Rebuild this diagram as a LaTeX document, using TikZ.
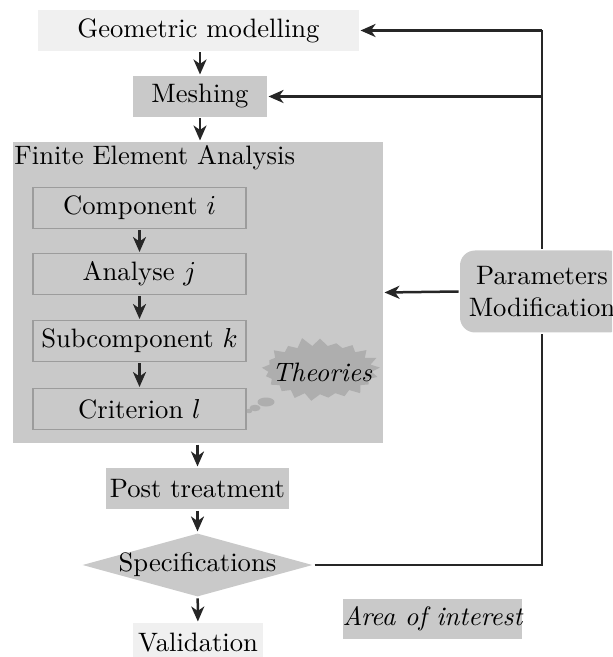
\documentclass[tikz,border=0pt]{standalone}
\usetikzlibrary{shapes.geometric,shapes.symbols,arrows.meta}
\newcommand\pxu{0.4pt}
\definecolor{lightg}{HTML}{F0F0F0}
\definecolor{midg}{HTML}{C9C9C9}
\definecolor{edgeg}{HTML}{9C9C9C}
\definecolor{starg}{HTML}{AEAEAE}
\definecolor{lineg}{HTML}{262626}
\tikzset{
  box/.style={rectangle, inner sep=0pt, outer sep=0.6pt},
  lightbox/.style={box, fill=lightg},
  midbox/.style={box, fill=midg},
  inbox/.style={box, draw=edgeg, fill=midg, line width=0.55pt, minimum width=213*\pxu, minimum height=41*\pxu},
  conn/.style={draw=lineg, line width=1pt},
  arr/.style={conn, -{Stealth[length=6pt,width=5.2pt,inset=1.8pt]}},
}
\begin{document}
\begin{tikzpicture}[x=0.4pt,y=-0.4pt,font=\fontsize{10.65pt}{12.8pt}\selectfont]
\useasboundingbox (0,0) rectangle (612,657);
\clip (0,0) rectangle (612,657);
% top boxes
\node[lightbox, minimum width=321*\pxu, minimum height=41*\pxu] (geo) at (198.5,30.5) {Geometric modelling};
\node[midbox, minimum width=134*\pxu, minimum height=41*\pxu] (mesh) at (200,96.5) {Meshing};
% FEA block
\node[midbox, minimum width=370*\pxu, minimum height=301*\pxu] (fea) at (198,292.5) {};
\node[anchor=base west, inner sep=0pt] (fealabel) at (14,165) {Finite Element Analysis};
\node[starburst, starburst points=21, starburst point height=3.8pt, random starburst=11,
      fill=starg, inner sep=0pt, minimum width=49pt, minimum height=27pt] (theo) at (320,370) {};
\node[inner sep=0pt] (theotext) at (322,372) {\itshape Theories};
\fill[starg] (266,402) ellipse [x radius=3.4pt, y radius=1.8pt];
\fill[starg] (255,408) ellipse [x radius=2.2pt, y radius=1.3pt];
\fill[starg] (249,411) ellipse [x radius=1.3pt, y radius=0.9pt];
\node[inbox] (comp) at (139.5,208) {Component $i$};
\node[inbox] (ana) at (139.5,274) {Analyse $j$};
\node[inbox] (sub) at (139.5,341) {Subcomponent $k$};
\node[inbox] (crit) at (139.5,409) {Criterion $l$};
% lower part
\node[midbox, minimum width=183*\pxu, minimum height=41*\pxu] (post) at (197.5,488.5) {Post treatment};
\node[diamond, aspect=3.6, fill=midg, inner sep=-0.9pt, outer sep=0.6pt, minimum width=92.4pt, minimum height=25.6pt] (spec) at (197.5,565) {Specifications};
\node[lightbox, minimum width=130*\pxu, minimum height=40*\pxu] (valid) at (198,643) {Validation};
\node[midbox, minimum width=171*\pxu, minimum height=40*\pxu] (area) at (432.5,619) {\itshape Area of interest};
% parameters
\node[midbox, rounded corners=6pt, minimum width=164*\pxu, minimum height=82*\pxu, align=center] (params) at (542,291.5) {Parameters\\Modification};
% connectors
\draw[arr] (mesh.north |- geo.south) -- (mesh.north);
\draw[arr] (mesh.south) -- (mesh.south |- fea.north);
\draw[arr] (comp) -- (ana);
\draw[arr] (ana) -- (sub);
\draw[arr] (sub) -- (crit);
\draw[arr] (post.north |- fea.south) -- (post.north);
\draw[arr] (post) -- (spec);
\draw[arr] (spec) -- (valid);
\coordinate (jtop) at (params.north |- geo.east);
\coordinate (jmesh) at (params.north |- mesh.east);
\draw[conn] (spec.east) -| (params.south);
\draw[conn] (params.north) -- (jtop);
\draw[arr] (jtop) -- (geo.east);
\draw[arr] (jmesh) -- (mesh.east);
\draw[arr] (params.west) -- (fea.east);
\end{tikzpicture}
\end{document}
